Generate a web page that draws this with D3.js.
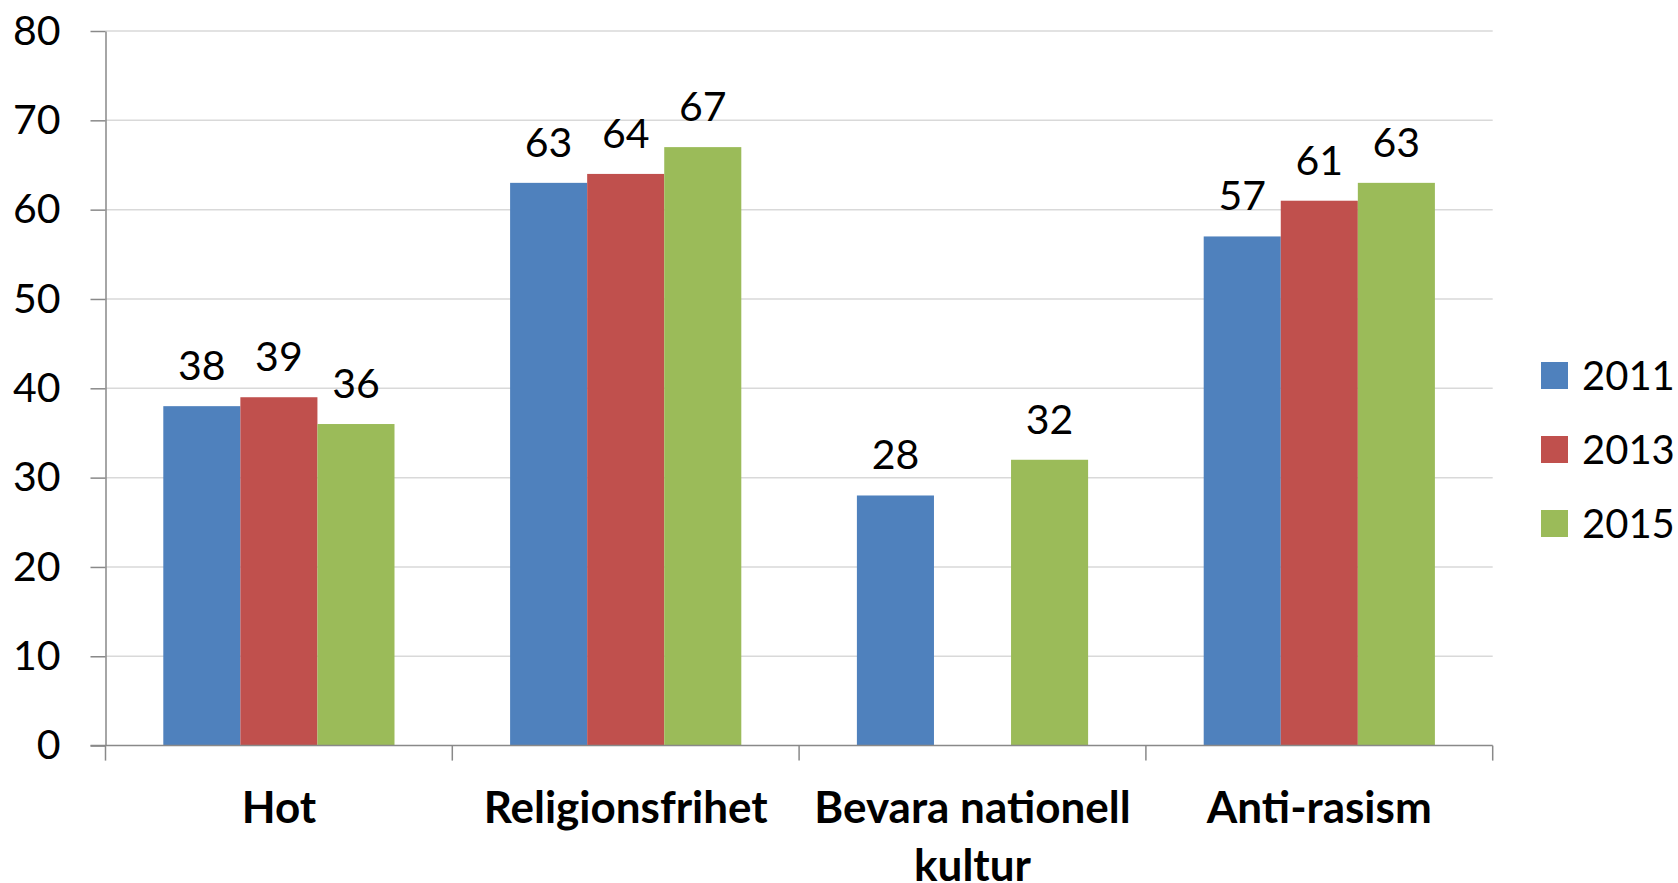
<!DOCTYPE html>
<html>
<head>
<meta charset="utf-8">
<script src="https://cdn.jsdelivr.net/npm/d3@7"></script>
<style>
  body { margin: 0; background: #fff; }
  svg text { font-family: Lato, "Open Sans", sans-serif; fill: #000; }
</style>
</head>
<body>
<div id="fig"></div>
<script>
var categories = ["Hot", "Religionsfrihet", "Bevara nationell kultur", "Anti-rasism"];
var catLines = [["Hot"], ["Religionsfrihet"], ["Bevara nationell", "kultur"], ["Anti-rasism"]];
var years = ["2011", "2013", "2015"];
var v2011 = [38, 63, 28, 57];
var v2013 = [39, 64, null, 61];
var v2015 = [36, 67, 32, 63];
var yTicks = [0, 10, 20, 30, 40, 50, 60, 70, 80];
var colors = ["#4F81BD", "#C0504D", "#9BBB59"];

var width = 1678, height = 883;
var plotL = 105.5, plotR = 1492.7, plotT = 31, plotB = 745.6;

var series = [v2011, v2013, v2015];

var svg = d3.select("#fig").append("svg")
    .attr("width", width)
    .attr("height", height);

var x = d3.scaleBand().domain(categories).range([plotL, plotR]);
var x1 = d3.scaleBand().domain(years).range([0, x.bandwidth()]).paddingOuter(0.75);
var y = d3.scaleLinear().domain([0, 80]).range([plotB, plotT]);

// gridlines
svg.append("g").selectAll("line")
  .data(yTicks.filter(function(d) { return d > 0; }))
  .enter().append("line")
    .attr("x1", plotL).attr("x2", plotR)
    .attr("y1", function(d) { return y(d); })
    .attr("y2", function(d) { return y(d); })
    .attr("stroke", "#D9D9D9").attr("stroke-width", 1.5);

// bars
var rows = [];
categories.forEach(function(c, i) {
  years.forEach(function(yr, j) {
    if (series[j][i] != null) rows.push({cat: c, year: yr, value: series[j][i], k: j});
  });
});

svg.append("g").selectAll("rect")
  .data(rows)
  .enter().append("rect")
    .attr("x", function(d) { return x(d.cat) + x1(d.year); })
    .attr("y", function(d) { return y(d.value); })
    .attr("width", x1.bandwidth())
    .attr("height", function(d) { return plotB - y(d.value); })
    .attr("fill", function(d) { return colors[d.k]; });

// value labels
svg.append("g").selectAll("text")
  .data(rows)
  .enter().append("text")
    .attr("x", function(d) { return x(d.cat) + x1(d.year) + x1.bandwidth() / 2; })
    .attr("y", function(d) { return y(d.value) - 26; })
    .attr("text-anchor", "middle")
    .style("font-size", "41px")
    .text(function(d) { return d.value; });

// y axis
var yAxis = svg.append("g")
    .attr("transform", "translate(" + plotL + ",0)")
    .call(d3.axisLeft(y).tickValues(yTicks).tickSizeInner(15).tickSizeOuter(0).tickPadding(30));
yAxis.select(".domain").attr("stroke", "#898989").attr("stroke-width", 1.5);
yAxis.selectAll(".tick line").attr("stroke", "#898989").attr("stroke-width", 1.5);
yAxis.selectAll(".tick text")
    .style("font-size", "41px")
    .attr("fill", "#000")
    .attr("font-family", null);

// x axis line + boundary ticks
var bounds = categories.map(function(c) { return x(c); }).concat([plotR]);
svg.append("line")
    .attr("x1", plotL - 15).attr("x2", plotR)
    .attr("y1", plotB).attr("y2", plotB)
    .attr("stroke", "#898989").attr("stroke-width", 1.5);
svg.append("g").selectAll("line")
  .data(bounds)
  .enter().append("line")
    .attr("x1", function(d) { return d; }).attr("x2", function(d) { return d; })
    .attr("y1", plotB).attr("y2", plotB + 15)
    .attr("stroke", "#898989").attr("stroke-width", 1.5);

// category labels
var cat = svg.append("g").selectAll("text")
  .data(categories)
  .enter().append("text")
    .attr("x", function(d) { return x(d) + x.bandwidth() / 2; })
    .attr("y", 823)
    .attr("text-anchor", "middle")
    .style("font-size", "44px")
    .style("font-weight", "bold");
cat.selectAll("tspan")
  .data(function(d, i) { return catLines[i]; })
  .enter().append("tspan")
    .attr("x", function() { return this.parentNode.getAttribute("x"); })
    .attr("dy", function(d, i) { return i === 0 ? 0 : 58; })
    .text(function(d) { return d; });

// legend
var leg = svg.append("g").selectAll("g")
  .data(years)
  .enter().append("g")
    .attr("transform", function(d, i) { return "translate(1541," + (362 + i * 74) + ")"; });
leg.append("rect")
    .attr("width", 27).attr("height", 27)
    .attr("fill", function(d, i) { return colors[i]; });
leg.append("text")
    .attr("x", 41).attr("y", 13.5)
    .attr("dy", "0.35em")
    .style("font-size", "40px")
    .text(function(d) { return d; });
</script>
</body>
</html>
